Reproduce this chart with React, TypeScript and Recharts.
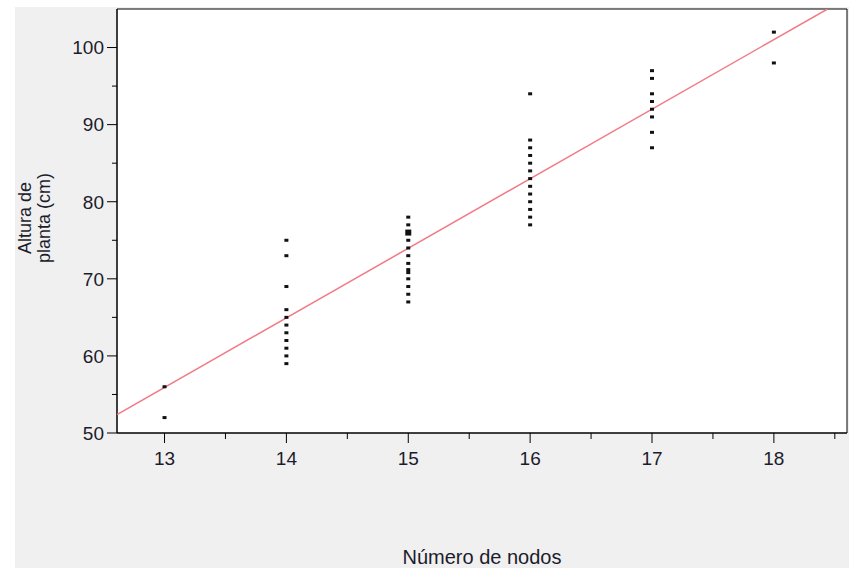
import React from 'react';
import { ScatterChart, Scatter, XAxis, YAxis, ReferenceArea, Label } from 'recharts';

// plant height (cm) by number of nodes
const nodos = [13, 14, 15, 16, 17, 18];
const altura13 = [56, 52];
const altura14 = [75, 73, 69, 66, 65, 64, 63, 62, 61, 60, 59];
const altura15 = [78, 77, 76, 75, 74, 73, 72, 71, 70, 69, 68, 67];
const altura16 = [94, 88, 87, 86, 85, 84, 83, 82, 81, 80, 79, 78, 77];
const altura17 = [97, 96, 94, 93, 92, 91, 89, 87];
const altura18 = [102, 98];
// points drawn with a bigger mark (overlapping observations)
const repetidos: Record<string, number> = { '15-76': 3, '15-71': 2 };

// fitted line end points
const ajusteX = [12.61, 18.44];
const ajusteY = [52.4, 105];

const xTicks = [13, 13.5, 14, 14.5, 15, 15.5, 16, 16.5, 17, 17.5, 18, 18.5];
const yTicks = [50, 55, 60, 65, 70, 75, 80, 85, 90, 95, 100];

const grupos = [altura13, altura14, altura15, altura16, altura17, altura18];
const puntos = grupos.flatMap((vals, i) =>
  vals.map((y) => ({ x: nodos[i], y, n: repetidos[`${nodos[i]}-${y}`] || 1 }))
);
const ajuste = ajusteX.map((x, i) => ({ x, y: ajusteY[i] }));

const FONT = '"Liberation Sans", Arial, sans-serif';
const INK = '#1c1c2c';

const Cuadro = (props: any) => {
  const { cx, cy, payload } = props;
  if (cx == null || cy == null) return null;
  const n = payload?.n || 1;
  const w = n === 3 ? 6 : 4;
  const h = n === 3 ? 6 : n === 2 ? 6 : 3;
  return <rect x={cx - w / 2} y={cy - h / 2} width={w} height={h} fill="#111" />;
};

const Nada = () => null;

const YTick = (props: any) => {
  const { x, y, payload } = props;
  const major = payload.value % 10 === 0;
  return (
    <g>
      <line x1={x - (major ? 10 : 5)} x2={x} y1={y} y2={y} stroke="#000" />
      {major && (
        <text x={x - 13} y={y} dy="0.36em" textAnchor="end" fontSize={19} fill={INK} fontFamily={FONT}>
          {payload.value}
        </text>
      )}
    </g>
  );
};

const XTick = (props: any) => {
  const { x, y, payload } = props;
  const major = Number.isInteger(payload.value);
  return (
    <g>
      <line x1={x} x2={x} y1={y} y2={y + (major ? 10 : 6)} stroke="#000" />
      {major && (
        <text x={x} y={y + 25} dy="0.36em" textAnchor="middle" fontSize={19} fill={INK} fontFamily={FONT}>
          {payload.value}
        </text>
      )}
    </g>
  );
};

const YTitle = () => (
  <g fontFamily={FONT} fontSize={18} fill={INK} textAnchor="middle">
    <text transform="translate(10, 211) rotate(-90)" dy="0.35em">Altura de</text>
    <text transform="translate(29, 211) rotate(-90)" dy="0.35em">planta (cm)</text>
  </g>
);

const XTitle = (props: any) => {
  const { viewBox } = props;
  const cx = viewBox.x + viewBox.width / 2;
  return (
    <text x={cx} y={550} dy="0.35em" textAnchor="middle" fontFamily={FONT} fontSize={20} fill={INK}>
      Número de nodos
    </text>
  );
};

export default function App() {
  return (
    <div style={{ position: 'absolute', left: 0, top: 0, width: 849, height: 571, background: '#fff' }}>
      <div style={{ position: 'absolute', left: 15, top: 7, width: 834, height: 561, background: '#f0f0f0' }}>
        <ScatterChart width={834} height={561} margin={{ top: 2, right: 2, bottom: 0, left: 0 }}>
          <XAxis
            type="number"
            dataKey="x"
            domain={[12.61, 18.6]}
            allowDataOverflow
            ticks={xTicks}
            interval={0}
            height={135}
            tickSize={0}
            tickMargin={0}
            tickLine={false}
            tick={<XTick />}
            axisLine={{ stroke: '#000' }}
          >
            <Label content={<XTitle />} />
          </XAxis>
          <YAxis
            type="number"
            dataKey="y"
            domain={[50, 105]}
            allowDataOverflow
            ticks={yTicks}
            interval={0}
            width={102}
            tickSize={0}
            tickMargin={0}
            tickLine={false}
            tick={<YTick />}
            axisLine={{ stroke: '#000' }}
          >
            <Label content={<YTitle />} />
          </YAxis>
          <ReferenceArea x1={12.61} x2={18.6} y1={50} y2={105} fill="#fff" fillOpacity={1} stroke="#000" strokeWidth={1} />
          <Scatter data={ajuste} line={{ stroke: '#f27a84', strokeWidth: 1.5 }} shape={<Nada />} isAnimationActive={false} />
          <Scatter data={puntos} shape={<Cuadro />} isAnimationActive={false} />
        </ScatterChart>
      </div>
    </div>
  );
}
